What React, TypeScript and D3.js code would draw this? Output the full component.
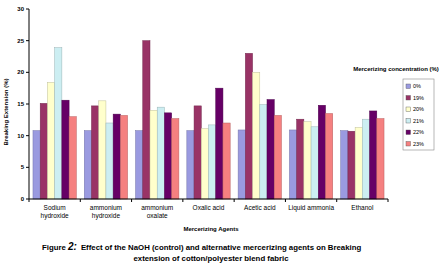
import React from "react";
import * as d3 from "d3";

const categories = [
  ["Sodium", "hydroxide"],
  ["ammonium", "hydroxide"],
  ["ammonium", "oxalate"],
  ["Oxalic acid"],
  ["Acetic acid"],
  ["Liquid ammonia"],
  ["Ethanol"],
];
const seriesNames = ["0%", "19%", "20%", "21%", "22%", "23%"];
const seriesColors = ["#9a9ae0", "#993366", "#ffffcc", "#cceef2", "#660066", "#f58080"];
const v0 = [10.8, 10.8, 10.8, 10.8, 10.9, 10.9, 10.8];
const v19 = [15.1, 14.7, 25.0, 14.7, 23.0, 12.6, 10.7];
const v20 = [18.4, 15.5, 14.0, 11.1, 20.0, 12.2, 11.3];
const v21 = [23.9, 12.0, 14.5, 11.7, 14.9, 11.4, 12.6];
const v22 = [15.6, 13.4, 13.6, 17.5, 15.7, 14.8, 13.9];
const v23 = [13.0, 13.2, 12.7, 12.0, 13.2, 13.5, 12.7];
const seriesValues = [v0, v19, v20, v21, v22, v23];
const yTicks = [0, 5, 10, 15, 20, 25, 30];

export default function App() {
  const W = 442, H = 270;
  const x0 = d3.scaleBand<number>().domain(d3.range(categories.length)).range([29, 388]).paddingInner(0).paddingOuter(0);
  const x1 = d3.scaleBand<number>().domain(d3.range(seriesNames.length)).range([0, x0.bandwidth()]).paddingInner(0).paddingOuter(0.55);
  const y = d3.scaleLinear().domain([0, 30]).range([199, 9]);
  const font = "'Liberation Sans', Arial, sans-serif";
  const boundaries = d3.range(categories.length + 1).map((i) => 29 + i * x0.step());

  return (
    <svg width={W} height={H} style={{ position: "absolute", left: 0, top: 0, background: "#fff" }} fontFamily={font}>
      {seriesValues.map((vals, s) =>
        vals.map((v, c) => (
          <rect
            key={`${s}-${c}`}
            x={(x0(c) as number) + (x1(s) as number)}
            y={y(v)}
            width={x1.bandwidth()}
            height={y(0) - y(v)}
            fill={seriesColors[s]}
            stroke={d3.color(seriesColors[s])!.darker(0.8).formatHex()}
            strokeWidth={0.5}
          />
        ))
      )}
      <line x1={29} x2={29} y1={y(30)} y2={y(0)} stroke="#000" strokeWidth={1} />
      {yTicks.map((t) => (
        <g key={t}>
          <line x1={26} x2={29} y1={y(t)} y2={y(t)} stroke="#000" />
          <text x={24} y={y(t)} dy="0.35em" textAnchor="end" fontSize={6} fontWeight="bold">{t}</text>
        </g>
      ))}
      <text transform={`translate(8,${(y(0) + y(30)) / 2 + 8}) rotate(-90)`} textAnchor="middle" fontSize={6} fontWeight="bold">
        Breaking Extension (%)
      </text>
      <line x1={29} x2={388} y1={y(0)} y2={y(0)} stroke="#000" />
      {boundaries.map((b, i) => (
        <line key={i} x1={b} x2={b} y1={y(0)} y2={y(0) + 3} stroke="#000" />
      ))}
      {categories.map((lines, i) => (
        <text key={i} x={(x0(i) as number) + x0.bandwidth() / 2} y={210} textAnchor="middle" fontSize={6.5}>
          {lines.map((l, j) => (
            <tspan key={j} x={(x0(i) as number) + x0.bandwidth() / 2} dy={j === 0 ? 0 : 8}>{l}</tspan>
          ))}
        </text>
      ))}
      <text x={211} y={231} textAnchor="middle" fontSize={6} fontWeight="bold">Mercerizing Agents</text>
      <text x={396} y={71} textAnchor="middle" fontSize={6} fontWeight="bold">Mercerizing concentration (%)</text>
      <rect x={403} y={79} width={31} height={71} fill="#fff" stroke="#888" strokeWidth={0.6} />
      {seriesNames.map((n, i) => (
        <g key={n}>
          <rect x={406} y={84 + i * 11.5} width={4.5} height={4.5} fill={seriesColors[i]} stroke="#555" strokeWidth={0.4} />
          <text x={413} y={86.5 + i * 11.5} dy="0.35em" fontSize={5.5}>{n}</text>
        </g>
      ))}
      <text x={42} y={250} fontSize={7.8} fontWeight="bold">
        Figure <tspan fontStyle="italic" fontSize={10}>2:</tspan>
        <tspan dx={4}>Effect of the NaOH (control) and alternative mercerizing agents on Breaking</tspan>
      </text>
      <text x={211} y={261} textAnchor="middle" fontSize={7.8} fontWeight="bold">extension of cotton/polyester blend fabric</text>
    </svg>
  );
}
